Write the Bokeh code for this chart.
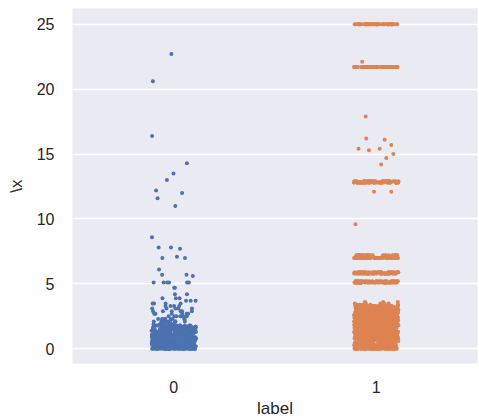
import numpy as np
from bokeh.plotting import figure
from bokeh.models import ColumnDataSource, FactorRange, Range1d, FixedTicker
from bokeh.transform import jitter
from bokeh.embed import file_html
from bokeh.resources import INLINE

categories = ["0", "1"]
colors = ["#4C72B0", "#DD8452"]

# label 0: observed values and how many points sit at each value
vals0 = [22.7, 20.6, 16.4, 14.3, 13.5, 13.0, 12.2, 12.0, 11.6, 11.0, 8.6,
         7.8, 7.7, 7.1, 7.0, 6.1, 5.7, 5.6, 5.1, 4.7, 4.2, 3.9, 3.7, 3.5,
         3.3, 3.1, 2.9, 2.7, 2.5, 2.3, 2.1, 1.9, 1.8, 1.7, 1.6, 1.5, 1.4,
         1.3, 1.2, 1.1, 1.0, 0.9, 0.8, 0.7, 0.6, 0.5, 0.4, 0.3, 0.2, 0.1, 0.0]
cnt0 = [1, 1, 1, 1, 1, 1, 1, 1, 1, 1, 1,
        2, 1, 1, 2, 1, 2, 1, 6, 2, 2, 3, 3, 4,
        4, 5, 6, 7, 8, 9, 10, 12, 14, 16, 18, 20, 22,
        24, 26, 28, 30, 30, 32, 32, 34, 34, 36, 36, 38, 38, 40]

# label 1: observed values and how many points sit at each value
vals1 = [25.0, 22.1, 21.7, 17.9, 16.2, 16.1, 15.7, 15.4, 15.3, 15.0, 14.7,
         14.2, 12.9, 12.8, 12.1, 9.6, 7.2, 7.0, 5.9, 5.8, 5.2, 5.1, 3.6,
         3.5, 3.4, 3.3, 3.2, 3.1, 3.0, 2.9, 2.8, 2.7, 2.6, 2.5, 2.4, 2.3,
         2.2, 2.1, 2.0, 1.9, 1.8, 1.7, 1.6, 1.5, 1.4, 1.3, 1.2, 1.1, 1.0,
         0.9, 0.8, 0.7, 0.6, 0.5, 0.4, 0.3, 0.2, 0.1, 0.0]
cnt1 = [60, 1, 60, 1, 1, 1, 1, 2, 1, 1, 1,
        1, 30, 60, 2, 1, 30, 50, 30, 50, 30, 50, 3,
        5, 8, 30, 30, 30, 30, 30, 30, 30, 30, 30, 30, 30,
        30, 30, 30, 30, 30, 30, 30, 30, 30, 30, 30, 30, 30,
        30, 30, 30, 30, 30, 30, 30, 30, 30, 40]

y_ticks = [0, 5, 10, 15, 20, 25]

p = figure(width=479, height=420, output_backend="svg", toolbar_location=None,
           x_range=FactorRange(*categories, range_padding=0),
           y_range=Range1d(-1.13, 26.21),
           min_border_left=72, min_border_right=2,
           min_border_top=8, min_border_bottom=50)

for cat, vals, cnt, col in [(categories[0], vals0, cnt0, colors[0]),
                            (categories[1], vals1, cnt1, colors[1])]:
    ys = np.repeat(np.array(vals), np.array(cnt))
    src = ColumnDataSource(dict(x=[cat] * len(ys), y=ys))
    p.scatter(x=jitter("x", width=0.22, range=p.x_range), y="y", source=src,
              size=4, fill_color=col, line_color=None)

p.background_fill_color = "#EAEAF2"
p.border_fill_color = "white"
p.outline_line_color = None
p.xgrid.grid_line_color = None
p.ygrid.grid_line_color = "white"
p.ygrid.grid_line_width = 1.3
p.yaxis.ticker = FixedTicker(ticks=y_ticks)

for ax in (p.xaxis, p.yaxis):
    ax.axis_line_color = None
    ax.major_tick_line_color = None
    ax.minor_tick_line_color = None
    ax.major_label_text_font = "Liberation Sans"
    ax.major_label_text_font_size = "16px"
    ax.major_label_text_color = "#262626"
    ax.axis_label_text_font = "Liberation Sans"
    ax.axis_label_text_font_size = "17px"
    ax.axis_label_text_font_style = "normal"
    ax.axis_label_text_color = "#262626"

p.xaxis.axis_label = "label"
p.yaxis.axis_label = "\\x"
p.yaxis.major_label_standoff = 12
p.xaxis.major_label_standoff = 11
p.xaxis.axis_label_standoff = 3
p.yaxis.axis_label_standoff = 8

open("out.html", "w").write(file_html(p, INLINE))
